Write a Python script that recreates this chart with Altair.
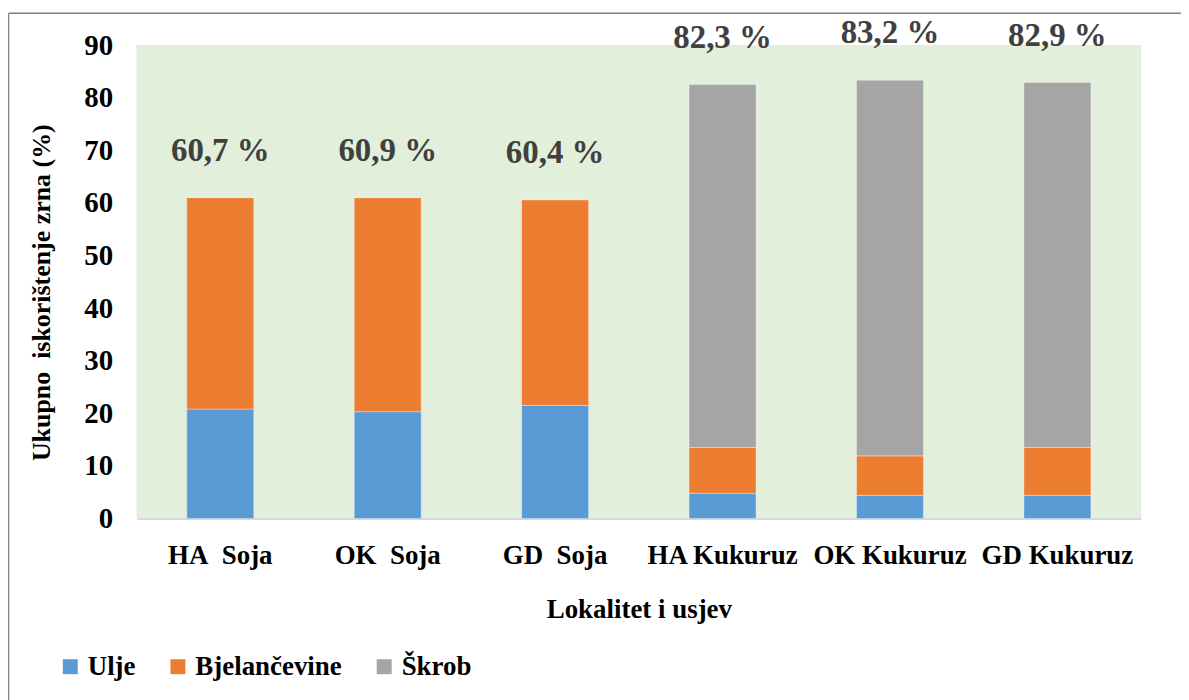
import altair as alt
import pandas as pd

categories = ["HA\u00a0 Soja", "OK\u00a0 Soja", "GD\u00a0 Soja", "HA Kukuruz", "OK Kukuruz", "GD Kukuruz"]
series = ["Ulje", "Bjelančevine", "Škrob"]
ulje = [20.8, 20.3, 21.5, 4.8, 4.4, 4.4]
bjelancevine = [40.2, 40.7, 39.1, 8.7, 7.5, 9.1]
skrob = [0.0, 0.0, 0.0, 69.0, 71.4, 69.4]
total_labels = ["60,7 %", "60,9 %", "60,4 %", "82,3 %", "83,2 %", "82,9 %"]
y_ticks = [0, 10, 20, 30, 40, 50, 60, 70, 80, 90]
colors = ["#5B9BD5", "#ED7D31", "#A5A5A5"]

FONT = "Liberation Serif, Times New Roman, Tinos, serif"

rows = []
for i, c in enumerate(categories):
    for j, (s, vals) in enumerate(zip(series, [ulje, bjelancevine, skrob])):
        rows.append({"category": c, "series": s, "value": vals[i], "order": j})
df = pd.DataFrame(rows)

df_lab = pd.DataFrame({
    "category": categories,
    "total": [u + b + s for u, b, s in zip(ulje, bjelancevine, skrob)],
    "label": total_labels,
})

x_enc = alt.X(
    "category:N", sort=categories,
    scale=alt.Scale(paddingInner=0.6, paddingOuter=0.3),
    axis=alt.Axis(
        title="Lokalitet i usjev", labelAngle=0, ticks=False,
        labelFont=FONT, labelFontSize=27, labelFontWeight="bold", labelColor="#000000",
        labelPadding=24,
        titleFont=FONT, titleFontSize=27, titleFontWeight="bold", titleColor="#000000",
        titlePadding=28,
        domainColor="#D9D9D9", domainWidth=2,
    ),
)

y_scale = alt.Scale(domain=[0, 90], nice=False)

bars = alt.Chart(df).mark_bar(stroke="#FFFFFF", strokeOpacity=0.35, strokeWidth=1).encode(
    x=x_enc,
    y=alt.Y(
        "value:Q", stack="zero", scale=y_scale,
        axis=alt.Axis(
            values=y_ticks, grid=False, ticks=False, domain=False,
            title="Ukupno\u00a0 iskorištenje zrna (%)",
            labelFont=FONT, labelFontSize=29, labelFontWeight="bold", labelColor="#000000",
            labelPadding=24,
            titleFont=FONT, titleFontSize=26, titleFontWeight="bold", titleColor="#000000",
            titleX=-95, titleY=248, titleBaseline="middle", titleAngle=270,
        ),
    ),
    color=alt.Color(
        "series:N", sort=series,
        scale=alt.Scale(domain=series, range=colors),
        legend=alt.Legend(
            title=None, orient="none", direction="horizontal",
            legendX=-80, legendY=610,
            symbolType="square", symbolSize=225, symbolStrokeWidth=0,
            labelFont=FONT, labelFontSize=27, labelFontWeight="bold", labelColor="#000000",
            labelOffset=4, columnPadding=29,
        ),
    ),
    order=alt.Order("order:Q", sort="ascending"),
)

labels = alt.Chart(df_lab).mark_text(
    font=FONT, fontSize=33, fontWeight="bold", color="#404040",
    baseline="middle", align="center", dy=-47,
).encode(
    x=alt.X("category:N", sort=categories),
    y=alt.Y("total:Q", scale=y_scale),
    text="label:N",
)

frame_df = pd.DataFrame({"k": [0]})
frame_left = alt.Chart(frame_df).mark_rule(color="#7F7F7F", strokeWidth=1.5).encode(
    x=alt.value(-128.5), y=alt.value(-32), y2=alt.value(700)
)
frame_top = alt.Chart(frame_df).mark_rule(color="#7F7F7F", strokeWidth=1.5).encode(
    x=alt.value(-128.5), x2=alt.value(1100), y=alt.value(-32)
)

chart = alt.layer(frame_left, frame_top, bars, labels).properties(
    width=1008, height=475,
    background="#FFFFFF",
    autosize=alt.AutoSizeParams(type="none"),
    padding={"left": 129, "top": 36, "right": 40, "bottom": 181},
).configure_view(fill="#E2EFDA", strokeWidth=0)

chart.save("out.html", embed_options={"renderer": "svg", "actions": False})
